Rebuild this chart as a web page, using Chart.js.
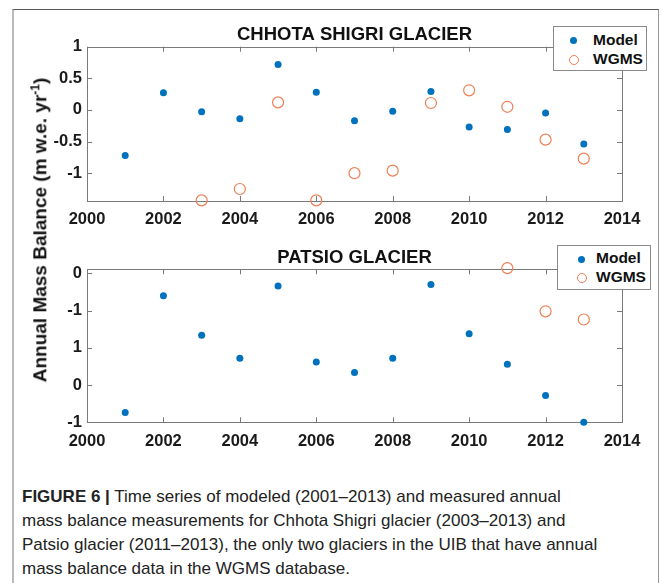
<!DOCTYPE html>
<html>
<head>
<meta charset="utf-8">
<script src="https://cdn.jsdelivr.net/npm/chart.js@4.4.1/dist/chart.umd.min.js"></script>
<style>
  body { margin: 0; background: #fff; width: 663px; height: 583px; overflow: hidden; position: relative; font-family: "Liberation Sans", Arial, sans-serif; }
  #frame { position: absolute; left: 12px; top: 9px; width: 644px; height: 600px; border-top: 1px solid #555; border-right: 1px solid #999; border-left: 2px solid #bbb; }
  canvas { position: absolute; left: 13px; }
  #topChart { top: 10px; }
  #bottomChart { top: 232px; }
  .legend { position: absolute; background: #fff; border: 1px solid #8a8a8a; font-weight: bold; font-size: 15.5px; color: #111; width: 92px; height: 43px; }
  .legend div { position: absolute; left: 0; height: 20px; line-height: 20px; }
  .legend .dot { position: absolute; width: 7px; height: 7px; border-radius: 50%; background: #0072BD; }
  .legend .ring { position: absolute; width: 10px; height: 10px; border-radius: 50%; border: 1.2px solid #EE7F55; box-sizing: border-box; }
  #ylabel { position: absolute; left: 40px; top: 230px; transform: translate(-50%, -50%) rotate(-90deg); white-space: nowrap; font-weight: bold; font-size: 19px; color: #111; }
  #ylabel sup { font-size: 12px; }
  #caption { position: absolute; left: 22px; top: 485px; width: 640px; white-space: nowrap; font-size: 17px; line-height: 24px; color: #222; }
</style>
</head>
<body>
<div id="frame"></div>
<canvas id="topChart" width="645" height="220"></canvas>
<canvas id="bottomChart" width="645" height="220"></canvas>

<div class="legend" style="left:553px; top:26px;">
  <span class="dot" style="left:16px; top:10px;"></span>
  <div style="left:39px; top:3px;">Model</div>
  <span class="ring" style="left:15px; top:28px;"></span>
  <div style="left:39px; top:22px;">WGMS</div>
</div>
<div class="legend" style="left:557px; top:245px;">
  <span class="dot" style="left:20px; top:10px;"></span>
  <div style="left:38px; top:2px;">Model</div>
  <span class="ring" style="left:19px; top:27px;"></span>
  <div style="left:38px; top:21px;">WGMS</div>
</div>

<div id="ylabel">Annual Mass Balance (m w.e. yr<sup>-1</sup>)</div>

<div id="caption"><b>FIGURE 6 |</b> Time series of modeled (2001–2013) and measured annual<br>mass balance measurements for Chhota Shigri glacier (2003–2013) and<br>Patsio glacier (2011–2013), the only two glaciers in the UIB that have annual<br>mass balance data in the WGMS database.</div>

<script>
// years on the x axis
const years = [2001, 2002, 2003, 2004, 2005, 2006, 2007, 2008, 2009, 2010, 2011, 2012, 2013];
const xTicks = [2000, 2002, 2004, 2006, 2008, 2010, 2012, 2014];

// Chhota Shigri
const chhotaModel = [-0.72, 0.27, -0.03, -0.14, 0.72, 0.28, -0.17, -0.02, 0.29, -0.27, -0.31, -0.05, -0.54];
const chhotaWgmsYears = [2003, 2004, 2005, 2006, 2007, 2008, 2009, 2010, 2011, 2012, 2013];
const chhotaWgms = [-1.43, -1.25, 0.12, -1.43, -1.0, -0.96, 0.11, 0.31, 0.05, -0.47, -0.77];
const chhotaYTicks = [1, 0.5, 0, -0.5, -1];
const chhotaYLabels = ['1', '0.5', '0', '-0.5', '-1'];

// Patsio
const patsioModel = [-1.87, -0.30, -0.83, -1.14, -0.17, -1.19, -1.33, -1.14, -0.15, -0.81, -1.22, -1.64, -2.0];
const patsioWgmsYears = [2011, 2012, 2013];
const patsioWgms = [0.07, -0.51, -0.62];
const patsioYTicks = [0, -0.5, -1, -1.5, -2];
const patsioYLabels = ['0', '-1', '1', '0', '-1'];

const tickFont = { family: 'Liberation Sans', size: 16.5, weight: 'bold' };

// matlab style box with inward ticks + title over the plot
const boxPlugin = {
  id: 'matlabBox',
  beforeDatasetsDraw(chart, args, opts) {
    const { ctx, chartArea: a, scales: { x, y } } = chart;
    ctx.save();
    ctx.strokeStyle = '#7a7a7a';
    ctx.lineWidth = 1;
    ctx.strokeRect(Math.round(a.left) + 0.5, Math.round(a.top) + 0.5, Math.round(a.width), Math.round(a.height));
    ctx.beginPath();
    x.ticks.forEach(t => {
      const px = Math.round(x.getPixelForValue(t.value)) + 0.5;
      ctx.moveTo(px, a.bottom); ctx.lineTo(px, a.bottom - 5);
      ctx.moveTo(px, a.top); ctx.lineTo(px, a.top + 5);
    });
    y.ticks.forEach(t => {
      const py = Math.round(y.getPixelForValue(t.value)) + 0.5;
      ctx.moveTo(a.left, py); ctx.lineTo(a.left + 5, py);
      ctx.moveTo(a.right, py); ctx.lineTo(a.right - 5, py);
    });
    ctx.stroke();
    ctx.font = 'bold 18.5px "Liberation Sans"';
    ctx.fillStyle = '#111';
    ctx.textAlign = 'center';
    ctx.fillText(opts.text, (a.left + a.right) / 2, opts.titleY);
    ctx.restore();
  }
};

function makeChart(canvasId, title, titleY, model, wgmsYears, wgms, yMin, yMax, yTicks, yLabels, padTop, xHeight) {
  const modelPts = years.map((yr, i) => ({ x: yr, y: model[i] }));
  const wgmsPts = wgmsYears.map((yr, i) => ({ x: yr, y: wgms[i] }));

  return new Chart(document.getElementById(canvasId), {
    type: 'scatter',
    data: {
      datasets: [
        {
          label: 'Model',
          data: modelPts,
          pointRadius: 3.5,
          pointBackgroundColor: '#0072BD',
          pointBorderWidth: 0,
          clip: false
        },
        {
          label: 'WGMS',
          data: wgmsPts,
          pointRadius: 5.5,
          pointBackgroundColor: 'rgba(0,0,0,0)',
          pointBorderColor: '#EE7F55',
          pointBorderWidth: 1.2,
          clip: false
        }
      ]
    },
    options: {
      responsive: false,
      animation: false,
      layout: { padding: { top: padTop, right: 36, left: 0, bottom: 0 } },
      plugins: {
        legend: { display: false },
        tooltip: { enabled: false },
        matlabBox: { text: title, titleY: titleY }
      },
      scales: {
        x: {
          type: 'linear',
          min: 2000,
          max: 2014,
          grid: { display: false, drawTicks: false },
          border: { display: false },
          afterBuildTicks: s => { s.ticks = xTicks.map(v => ({ value: v })); },
          afterFit: s => { s.height = xHeight; },
          ticks: { font: tickFont, color: '#1a1a1a', padding: 9, maxRotation: 0, autoSkip: false, callback: v => String(v) }
        },
        y: {
          min: yMin,
          max: yMax,
          grid: { display: false, drawTicks: false },
          border: { display: false },
          afterBuildTicks: s => { s.ticks = yTicks.map(v => ({ value: v })); },
          afterFit: s => { s.width = 74; },
          ticks: {
            font: tickFont,
            color: '#1a1a1a',
            padding: 5,
            autoSkip: false,
            callback: (v, i) => yLabels[i]
          }
        }
      }
    },
    plugins: [boxPlugin]
  });
}

makeChart('topChart', 'CHHOTA SHIGRI GLACIER', 30, chhotaModel, chhotaWgmsYears, chhotaWgms, -1.44, 1, chhotaYTicks, chhotaYLabels, 36.7, 29);
makeChart('bottomChart', 'PATSIO GLACIER', 31, patsioModel, patsioWgmsYears, patsioWgms, -2.0, 0.054, patsioYTicks, patsioYLabels, 37.3, 29.7);
</script>
</body>
</html>
